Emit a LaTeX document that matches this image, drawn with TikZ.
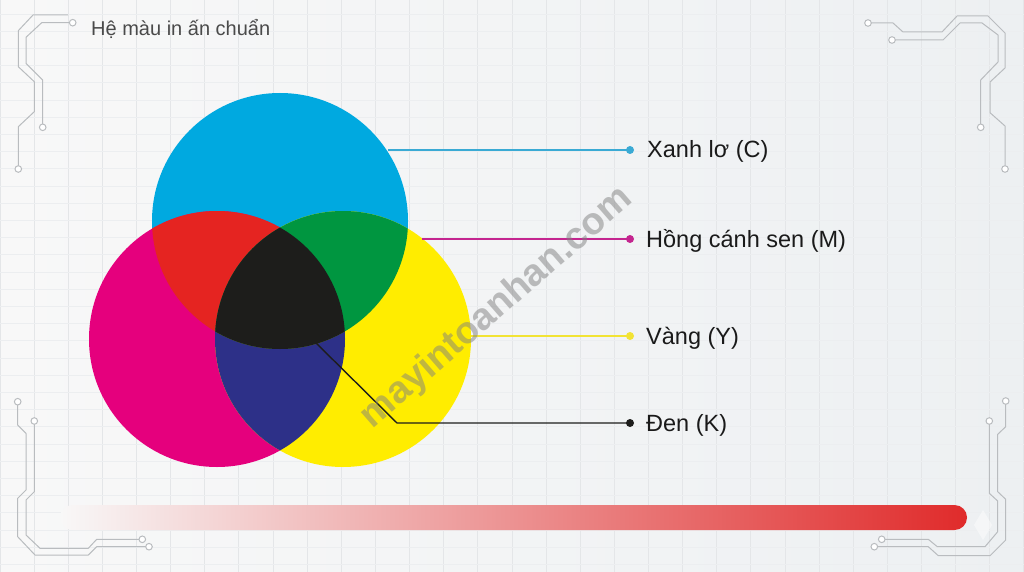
\documentclass[tikz,border=0pt]{standalone}
\usepackage{fontspec}
\setmainfont{Liberation Sans}
\definecolor{bgL}{HTML}{F8F8F8}
\definecolor{bgR}{HTML}{EDF0F2}
\definecolor{gridA}{HTML}{E4E6E8}
\definecolor{gridB}{HTML}{ECEEF0}
\definecolor{cyanC}{HTML}{00A9E0}
\definecolor{magC}{HTML}{E5007D}
\definecolor{yelC}{HTML}{FFED00}
\definecolor{redC}{HTML}{E52421}
\definecolor{greenC}{HTML}{009640}
\definecolor{blueC}{HTML}{2D3088}
\definecolor{blackC}{HTML}{1D1D1B}
\definecolor{cyanL}{HTML}{3AAAD4}
\definecolor{magL}{HTML}{C4258F}
\definecolor{yelL}{HTML}{F2E334}
\definecolor{circ}{HTML}{B9BCBF}
\definecolor{barR}{HTML}{E02B2B}
\definecolor{titleC}{HTML}{4A4A4A}
\definecolor{textC}{HTML}{1A1A1A}
\begin{document}
\begin{tikzpicture}[x=1pt,y=-1pt,
  trace/.style={draw=circ,line width=1pt,line join=round},
  pad/.style={draw=circ,fill=white,line width=1pt},
  conn/.style={line width=1.4pt},
  dot/.style={circle,inner sep=0pt,minimum size=8pt},
  lbl/.style={text=textC,font=\fontsize{23.5}{26}\selectfont,inner sep=0pt,anchor=base west},
  ttl/.style={text=titleC,font=\fontsize{20}{22}\selectfont,inner sep=0pt,anchor=base west}]
\useasboundingbox (0,0) rectangle (1024,572);
% background
\shade[left color=bgL,right color=bgR] (0,0) rectangle (1024,572);
\foreach \i in {0,...,30} {\draw[gridA,line width=0.9pt] (\i*34.13,0) -- (\i*34.13,572);}
\foreach \j in {0,...,33} {\draw[gridB,line width=0.9pt] (0,14+\j*17.2) -- (1024,14+\j*17.2);}
% circuit traces
\draw[trace] (68,15) -- (33,15) -- (18.3,30.7) -- (18.3,66.7) -- (34.3,81.7) -- (34.3,111.7) -- (18.3,126.7) -- (18.3,165.7);
\draw[pad] (18.3,169) circle (3.3);
\draw[trace] (69.4,22.7) -- (41.7,22.7) -- (26,37.3) -- (26,63.3) -- (42.7,80) -- (42.7,124);
\draw[pad] (72.7,22.7) circle (3.3);
\draw[pad] (42.7,127.3) circle (3.3);
\draw[trace] (871.3,23) -- (893,23) -- (903,32) -- (942,32) -- (957,16) -- (988,16) -- (1005,33) -- (1005,68) -- (990,82) -- (990,112.7) -- (1005,126) -- (1005,165.7);
\draw[pad] (868,23) circle (3.3);
\draw[pad] (1005,169) circle (3.3);
\draw[trace] (895.3,40) -- (943,40) -- (960,23) -- (982,23) -- (998,35) -- (998,62) -- (980.7,80) -- (980.7,124);
\draw[pad] (892,40) circle (3.3);
\draw[pad] (980.7,127.3) circle (3.3);
\draw[trace] (17.7,405) -- (17.7,425) -- (26,433.3) -- (26,490) -- (17.7,498.3) -- (17.7,536.7) -- (35,555) -- (88.3,555) -- (96.7,546.7) -- (145.7,546.7);
\draw[pad] (17.7,401.7) circle (3.3);
\draw[pad] (149,546.7) circle (3.3);
\draw[trace] (34.3,424.3) -- (34.3,491.7) -- (26,500) -- (26,535) -- (40,548.3) -- (88.3,548.3) -- (96.7,539.3) -- (139,539.3);
\draw[pad] (34.3,421) circle (3.3);
\draw[pad] (142.3,539.3) circle (3.3);
\draw[trace] (1005.7,404.3) -- (1005.7,426.7) -- (997.7,434.3) -- (997.7,491.7) -- (1005.7,499.3) -- (1005.7,540) -- (990,555.7) -- (938.3,555.7) -- (928.3,546.7) -- (877.7,546.7);
\draw[pad] (1005.7,401) circle (3.3);
\draw[pad] (874.3,546.7) circle (3.3);
\draw[trace] (989.3,424.3) -- (989.3,493.3) -- (997.7,501) -- (997.7,531.7) -- (985,546.7) -- (937.3,546.7) -- (928.3,539.3) -- (885,539.3);
\draw[pad] (989.3,421) circle (3.3);
\draw[pad] (881.7,539.3) circle (3.3);
% bottom bar
\shade[left color=bgL,right color=barR,rounded corners=12.5pt] (60,505) rectangle (967,530);
\fill[white,opacity=0.45] (983,510) -- (992,525) -- (983,540) -- (974,525) -- cycle;
% title
\node[ttl] (title) at (91,36) {Hệ màu in ấn chuẩn};
% circles
\coordinate (C) at (280,221);
\coordinate (M) at (217,339);
\coordinate (Y) at (343,339);
\fill[cyanC] (C) circle (128);
\fill[magC] (M) circle (128);
\fill[yelC] (Y) circle (128);
\begin{scope}
  \clip (M) circle (128);
  \fill[blueC] (Y) circle (128);
\end{scope}
\begin{scope}
  \clip (C) circle (128);
  \fill[redC] (M) circle (128);
  \fill[greenC] (Y) circle (128);
  \clip (M) circle (128);
  \fill[blackC] (Y) circle (128);
\end{scope}
% connectors
\coordinate (sc) at (388,150);
\coordinate (sm) at (422,239);
\coordinate (sy) at (471,336);
\coordinate (sk) at (313,340);
\coordinate (bk) at (397,423);
\node[dot,fill=cyanL] (dc) at (630,150) {};
\node[dot,fill=magL] (dm) at (630,239) {};
\node[dot,fill=yelL] (dy) at (630,336) {};
\node[dot,fill=blackC] (dk) at (630,423) {};
\draw[conn,cyanL] (sc) -- (dc.center);
\draw[conn,magL] (sm) -- (dm.center);
\draw[conn,yelL] (sy) -- (dy.center);
\draw[conn,blackC] (sk) -- (bk) -- (dk.center);
\node[lbl] (lc) at (647,157.5) {Xanh lơ (C)};
\node[lbl] (lm) at (646,247.5) {Hồng cánh sen (M)};
\node[lbl] (ly) at (646,344) {Vàng (Y)};
\node[lbl] (lk) at (646,431.5) {Đen (K)};
% watermark
\node[rotate=41,text=black!50,opacity=0.5,font=\bfseries\fontsize{38}{40}\selectfont] (wm) at (497,308) {mayintoanhan.com};
\end{tikzpicture}
\end{document}
